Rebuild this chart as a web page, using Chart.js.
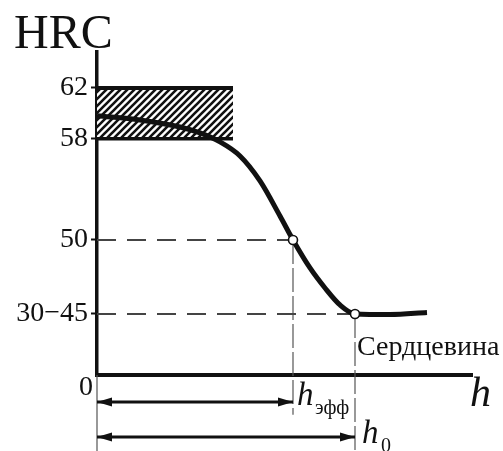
<!DOCTYPE html>
<html>
<head>
<meta charset="utf-8">
<script src="https://cdn.jsdelivr.net/npm/chart.js@4.4.1/dist/chart.umd.min.js"></script>
<style>
    html, body { margin: 0; padding: 0; background: #fff; }
    #wrap { width: 503px; height: 451px; }
</style>
</head>
<body>
<div id="wrap"><canvas id="hrcChart"></canvas></div>
<script>
// Hardness axis (schematic, broken below the core level)
const hrcTicks = [39.34, 44.16, 50, 58, 62];
const hrcTickLabels = ["0", "30\u221245", "50", "58", "62"];

// Hardness profile along the depth h (arbitrary units)
const depth = [0, 0.86, 1.66, 2.06, 2.46, 2.86, 3.26, 3.66, 3.92, 4.26, 4.56, 4.86, 5.16, 5.86, 6.6];
const hardness = [59.8, 59.47, 58.92, 58.45, 57.74, 56.63, 54.66, 51.89, 50, 47.79, 46.21, 44.87, 44.16, 44.12, 44.28];

// Required surface hardness band
const specMin = 58;
const specMax = 62;
const specEnd = 2.72;

// Characteristic points
const hEff = 3.92;
const hEffHRC = 50;
const h0 = 5.16;
const coreHRC = 44.16;

// levels used below the axis for the dimension arrows
const arrowLevels = [37.2, 34.45];
const arrowEnds = [hEff, h0];
const belowBottom = 33.3;

document.addEventListener("DOMContentLoaded", function () {
    const ctx = document.getElementById("hrcChart").getContext("2d");
    const serif = '"Liberation Serif", "Times New Roman", serif';

    // hatch pattern for the 58-62 band
    const pc = document.createElement("canvas");
    pc.width = 7; pc.height = 7;
    const p = pc.getContext("2d");
    p.fillStyle = "#fff";
    p.fillRect(0, 0, 7, 7);
    p.strokeStyle = "#111";
    p.lineWidth = 2.6;
    p.beginPath();
    p.moveTo(-2, 9); p.lineTo(9, -2);
    p.moveTo(-9, 9); p.lineTo(2, -2);
    p.moveTo(5, 9); p.lineTo(16, -2);
    p.stroke();
    const hatch = ctx.createPattern(pc, "repeat");

    const seg = (a, b) => [a, b];

    const annotations = {
        id: "annotations",
        afterDatasetsDraw(chart) {
            const c = chart.ctx;
            const xs = chart.scales.x, ys = chart.scales.y;
            c.save();
            c.fillStyle = "#111";

            // arrow heads
            arrowLevels.forEach((lv, i) => {
                const y = ys.getPixelForValue(lv);
                const xl = xs.getPixelForValue(0);
                const xr = xs.getPixelForValue(arrowEnds[i]);
                c.beginPath();
                c.moveTo(xl, y); c.lineTo(xl + 15, y - 4.5); c.lineTo(xl + 15, y + 4.5);
                c.closePath(); c.fill();
                c.beginPath();
                c.moveTo(xr, y); c.lineTo(xr - 15, y - 4.5); c.lineTo(xr - 15, y + 4.5);
                c.closePath(); c.fill();
            });

            c.textBaseline = "alphabetic";
            c.textAlign = "left";
            c.font = "48px " + serif;
            c.fillText("HRC", 14, 48);

            c.font = "28px " + serif;
            c.textAlign = "right";
            c.textBaseline = "middle";
            c.fillText(hrcTickLabels[0], xs.left - 4, ys.getPixelForValue(hrcTicks[0]) + 13);

            c.textAlign = "left";
            c.textBaseline = "alphabetic";
            c.font = "italic 42px " + serif;
            c.fillText("h", xs.right - 2, ys.bottom + 31);

            const xe = xs.getPixelForValue(hEff);
            c.font = "italic 33px " + serif;
            c.fillText("h", xe + 4, ys.bottom + 30);
            c.font = "20px " + serif;
            c.fillText("\u044d\u0444\u0444", xe + 22, ys.bottom + 39);

            const x0 = xs.getPixelForValue(h0);
            c.font = "italic 33px " + serif;
            c.fillText("h", x0 + 7, ys.bottom + 68);
            c.font = "20px " + serif;
            c.fillText("0", x0 + 26, ys.bottom + 77);

            c.font = "28px " + serif;
            c.fillText("\u0421\u0435\u0440\u0434\u0446\u0435\u0432\u0438\u043d\u0430", x0 + 2, ys.getPixelForValue(coreHRC) + 41);
            c.restore();
        }
    };

    const thin = {
        borderColor: "#555", borderWidth: 1.2, pointRadius: 0, clip: false, order: 6
    };

    new Chart(ctx, {
        type: "line",
        data: {
            datasets: [
                {
                    label: "points",
                    data: [{ x: hEff, y: hEffHRC }, { x: h0, y: coreHRC }],
                    showLine: false,
                    pointRadius: 4.5,
                    pointBackgroundColor: "#fff",
                    pointBorderColor: "#111",
                    pointBorderWidth: 1.6,
                    order: 0
                },
                {
                    label: "HRC",
                    data: depth.map((d, i) => ({ x: d, y: hardness[i] })),
                    borderColor: "#111",
                    borderWidth: 5,
                    cubicInterpolationMode: "monotone",
                    pointRadius: 0,
                    order: 1
                },
                {
                    label: "band max",
                    data: seg({ x: 0, y: specMax }, { x: specEnd, y: specMax }),
                    borderColor: "#111",
                    borderWidth: 4,
                    backgroundColor: hatch,
                    fill: { value: specMin },
                    pointRadius: 0,
                    order: 3
                },
                {
                    label: "band min",
                    data: seg({ x: 0, y: specMin }, { x: specEnd, y: specMin }),
                    borderColor: "#111",
                    borderWidth: 3.5,
                    pointRadius: 0,
                    order: 2
                },
                {
                    label: "50 level",
                    data: seg({ x: 0, y: hEffHRC }, { x: hEff, y: hEffHRC }),
                    borderColor: "#444", borderWidth: 2, borderDash: [19, 11],
                    pointRadius: 0, order: 5
                },
                {
                    label: "core level",
                    data: seg({ x: 0, y: coreHRC }, { x: h0, y: coreHRC }),
                    borderColor: "#444", borderWidth: 2, borderDash: [19, 11],
                    pointRadius: 0, order: 5
                },
                Object.assign({ label: "hEff drop", borderDash: [24, 4],
                    data: seg({ x: hEff, y: hEffHRC }, { x: hEff, y: 36.2 }) }, thin),
                Object.assign({ label: "h0 drop", borderDash: [24, 4],
                    data: seg({ x: h0, y: coreHRC }, { x: h0, y: belowBottom }) }, thin),
                Object.assign({ label: "zero drop",
                    data: seg({ x: 0, y: hrcTicks[0] }, { x: 0, y: belowBottom }) }, thin),
                {
                    label: "arrow 1",
                    data: seg({ x: 0, y: arrowLevels[0] }, { x: arrowEnds[0], y: arrowLevels[0] }),
                    borderColor: "#111", borderWidth: 3, pointRadius: 0, clip: false, order: 4
                },
                {
                    label: "arrow 2",
                    data: seg({ x: 0, y: arrowLevels[1] }, { x: arrowEnds[1], y: arrowLevels[1] }),
                    borderColor: "#111", borderWidth: 3, pointRadius: 0, clip: false, order: 4
                }
            ]
        },
        options: {
            responsive: true,
            maintainAspectRatio: false,
            animation: false,
            layout: { padding: { top: 52, right: 31, left: 0, bottom: 0 } },
            plugins: {
                legend: { display: false },
                tooltip: { enabled: false }
            },
            scales: {
                x: {
                    type: "linear",
                    min: 0,
                    max: 7.5,
                    ticks: { display: false },
                    grid: { display: false },
                    border: { display: true, color: "#111", width: 4 },
                    afterFit: (s) => { s.height = 76; }
                },
                y: {
                    type: "linear",
                    min: 39.34,
                    max: 64.84,
                    afterBuildTicks: (s) => { s.ticks = hrcTicks.map((v) => ({ value: v })); },
                    ticks: {
                        autoSkip: false,
                        color: "#111",
                        padding: 3,
                        font: { family: serif, size: 28 },
                        callback: (v, i) => (i === 0 ? "" : hrcTickLabels[i])
                    },
                    grid: {
                        drawOnChartArea: false,
                        tickLength: 6,
                        tickWidth: 2,
                        color: (c) => (c.index === 0 ? "rgba(0,0,0,0)" : "#111")
                    },
                    border: { color: "#111", width: 3.5 },
                    afterFit: (s) => { s.width = 97; }
                }
            }
        },
        plugins: [annotations]
    });
});
</script>
</body>
</html>
